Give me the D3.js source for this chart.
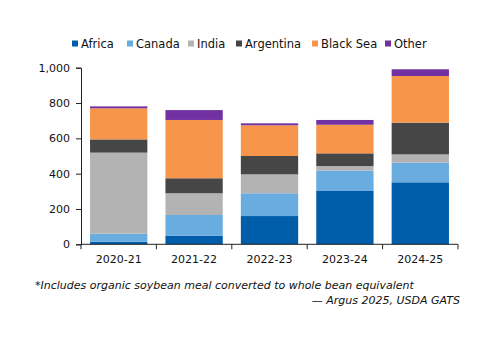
<!DOCTYPE html>
<html><head><meta charset="utf-8">
<script src="https://cdn.jsdelivr.net/npm/d3@7"></script>
<style>body{margin:0;background:#fff;} svg{display:block;}</style>
</head><body>
<svg id="c" width="500" height="353"></svg>
<script>
const categories = ["2020-21","2021-22","2022-23","2023-24","2024-25"];
const seriesNames = ["Africa","Canada","India","Argentina","Black Sea","Other"];
const africa   = [15, 49, 160, 302, 351];
const canada   = [45, 117, 129, 115, 111];
const india    = [459, 123, 107, 26, 47];
const argentina= [75, 85, 104, 72, 180];
const blackSea = [176, 330, 174, 162, 264];
const other    = [11, 56, 11, 27, 38];
const yTicks = [0, 200, 400, 600, 800, 1000];
const colors = ["#005DA9","#69ACDF","#B3B3B3","#464646","#F7964A","#7231A1"];
const footnote = "*Includes organic soybean meal converted to whole bean equivalent";
const source = "— Argus 2025, USDA GATS";

const seriesVals = [africa, canada, india, argentina, blackSea, other];
const rows = categories.map((c, i) => {
  const r = {cat: c};
  seriesNames.forEach((s, j) => r[s] = seriesVals[j][i]);
  return r;
});
const stack = d3.stack().keys(seriesNames)(rows);

const svg = d3.select("#c");
const font = "DejaVu Sans, Verdana, sans-serif";
const m = {l: 81, r: 458, t: 67.7, b: 244.3};
const x = d3.scaleBand().domain(categories).range([m.l, m.r]).paddingInner(0.24).paddingOuter(0.12);
const y = d3.scaleLinear().domain([0, 1000]).range([m.b, m.t]);

// bars
svg.append("g").selectAll("g").data(stack).join("g")
  .attr("fill", (d, i) => colors[i])
  .selectAll("rect").data(d => d).join("rect")
  .attr("x", d => x(d.data.cat))
  .attr("width", x.bandwidth())
  .attr("y", d => y(d[1]))
  .attr("height", d => y(d[0]) - y(d[1]));

// y axis
const ya = svg.append("g").attr("transform", `translate(${m.l},0)`)
  .call(d3.axisLeft(y).tickValues(yTicks).tickFormat(d3.format(",")).tickSizeOuter(0).tickSize(5).tickPadding(6));
ya.selectAll("text").attr("font-family", font).attr("font-size", 11).attr("fill", "#111");
ya.selectAll("line,path").attr("stroke", "#222");

// x axis with boundary ticks
const xa = svg.append("g").attr("transform", `translate(0,${m.b})`);
xa.append("line").attr("x1", m.l).attr("x2", m.r).attr("y1", 0).attr("y2", 0).attr("stroke", "#222");
const step = x.step();
const bounds = d3.range(categories.length + 1).map(i => m.l + (m.r - m.l) * i / categories.length);
xa.selectAll("line.t").data(bounds).join("line").attr("class", "t")
  .attr("x1", d => d).attr("x2", d => d).attr("y1", 0).attr("y2", 5).attr("stroke", "#222");
xa.selectAll("text").data(categories).join("text")
  .attr("x", d => x(d) + x.bandwidth() / 2).attr("y", 19)
  .attr("text-anchor", "middle").attr("font-family", font).attr("font-size", 11).attr("fill", "#111")
  .text(d => d);

// legend
const legX = [72, 127, 188, 236, 312, 385];
const lg = svg.append("g").attr("transform", "translate(0,44)");
seriesNames.forEach((s, i) => {
  lg.append("rect").attr("x", legX[i]).attr("y", -3.5).attr("width", 6).attr("height", 6).attr("fill", colors[i]);
  lg.append("text").attr("x", legX[i] + 9).attr("y", 4).attr("font-family", font).attr("font-size", 11.5)
    .attr("fill", "#111").text(s);
});

// footnote
svg.append("text").attr("x", 35).attr("y", 289).attr("font-family", font).attr("font-size", 11)
  .attr("font-style", "italic").attr("fill", "#111").text(footnote);
svg.append("text").attr("x", 460).attr("y", 304).attr("text-anchor", "end").attr("font-family", font).attr("font-size", 11)
  .attr("font-style", "italic").attr("fill", "#111").text(source);
</script>
</body></html>
